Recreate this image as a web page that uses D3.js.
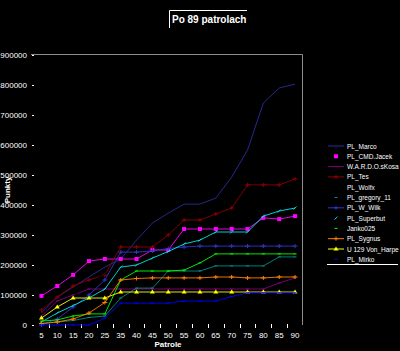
<!DOCTYPE html>
<html lang="en">
<head>
<meta charset="UTF-8">
<title>Po 89 patrolach</title>
<script src="https://d3js.org/d3.v7.min.js"></script>
<style>
  body { margin: 0; background: #000; }
  text { font-family: "Liberation Sans", Arial, sans-serif; fill: #fff; }
</style>
</head>
<body>
<script>
    const width = 400;
    const height = 351;

    // categories (patrols)
    const patrols = ["5","10","15","20","25","35","40","45","50","55","60","65","70","75","80","85","90"];
    const yTicks = [0,100000,200000,300000,400000,500000,600000,700000,800000,900000];

    // series values, in thousands of points
    const marco    = [40,93,127,160,193,220,283,340,373,403,403,423,493,583,740,790,803];
    const jacek    = [97,130,167,213,220,220,220,250,250,320,320,320,320,320,357,353,363];
    const wardo    = [30,80,100,120,120,120,120,120,120,120,120,120,120,120,120,140,157];
    const tes      = [50,93,130,150,167,260,260,260,300,350,350,370,390,467,467,467,487];
    const wolfx    = [20,55,95,140,170,195,205,225,240,250,262,270,282,290,300,312,320];
    const gregory  = [5,10,15,25,30,90,123,123,180,180,180,197,197,197,197,227,227];
    const wilk     = [0,20,60,100,150,243,243,247,255,260,263,263,263,263,263,263,263];
    const superbut = [10,40,65,90,120,193,200,223,245,270,283,310,310,310,363,380,390];
    const janko    = [13,17,30,37,37,150,180,180,180,183,207,237,237,237,237,237,237];
    const sygnus   = [5,10,20,40,75,150,155,157,157,157,157,160,160,157,157,160,160];
    const harpe    = [23,60,90,90,90,110,110,110,110,110,110,110,110,110,110,110,110];
    const mirko    = [0,0,0,0,23,73,73,73,73,80,80,80,95,107,107,107,107];

    const series = [
        {name: "PL_Marco",        values: marco,    color: "#2b2ba0", legendLine: true,  mark: null},
        {name: "PL_CMD.Jacek",    values: jacek,    color: "#ff00ff", legendLine: false, mark: "square"},
        {name: "W.A.R.D.O.sKosa", values: wardo,    color: "#800080", legendLine: true,  mark: "dash"},
        {name: "PL_Tes",          values: tes,      color: "#8b0000", legendLine: true,  mark: "plus"},
        {name: "PL_Wolfx",        values: wolfx,    color: "#000000", legendLine: false, mark: null},
        {name: "PL_gregory_11",   values: gregory,  color: "#008b8b", legendLine: false, mark: "dash"},
        {name: "PL_W_Wilk",       values: wilk,     color: "#3333cc", legendLine: true,  mark: "plus"},
        {name: "PL_Superbut",     values: superbut, color: "#00e5e5", legendLine: false, mark: "star"},
        {name: "Janko025",        values: janko,    color: "#00ff00", legendLine: false, mark: "dash"},
        {name: "PL_Sygnus",       values: sygnus,   color: "#ff8000", legendLine: true,  mark: "plus"},
        {name: "U 129 Von_Harpe", values: harpe,    color: "#ffff00", legendLine: true,  mark: "triangle"},
        {name: "PL_Mirko",        values: mirko,    color: "#0000ff", legendLine: false, mark: "dash"}
    ];

    const svg = d3.select("body").append("svg")
            .attr("width", width).attr("height", height)
            .style("background", "#000");

    const x = d3.scaleBand().domain(patrols).range([33.5, 303]);
    const y = d3.scaleLinear().domain([0, 900000]).range([325, 55]);

    // title box
    svg.append("path")
            .attr("d", "M169.5,28 V10.5 H247")
            .style("stroke", "#fff").style("fill", "none");
    svg.append("text")
            .attr("x", 172).attr("y", 23)
            .style("font-size", "10px").style("font-weight", "bold")
            .text("Po 89 patrolach");

    // frame (top and right)
    svg.append("path")
            .attr("d", `M31,${y(900000) - 0.5} H302.5 V325`)
            .style("stroke", "#8c8c8c").style("fill", "none");

    // y axis
    const yAxis = svg.append("g")
            .attr("transform", "translate(34,0)")
            .call(d3.axisLeft(y).tickValues(yTicks).tickSize(2).tickPadding(5).tickFormat(d3.format("d")));
    yAxis.select(".domain").remove();
    yAxis.selectAll("line").style("stroke", "#fff");
    yAxis.selectAll("text").style("font-size", "8px").style("fill", "#fff");

    // x axis
    const xAxis = svg.append("g")
            .attr("transform", "translate(0,325)")
            .call(d3.axisBottom(x).tickSize(0).tickPadding(7));
    xAxis.select(".domain").remove();
    xAxis.selectAll("text").style("font-size", "8px").style("fill", "#fff");
    svg.append("g").selectAll("line")
            .data(patrols.slice(1))
            .join("line")
            .attr("x1", d => Math.round(x(d)) + 0.5).attr("x2", d => Math.round(x(d)) + 0.5)
            .attr("y1", 324).attr("y2", 328)
            .style("stroke", "#fff");

    svg.append("text")
            .attr("x", 168).attr("y", 347).attr("text-anchor", "middle")
            .style("font-size", "8px").style("font-weight", "bold")
            .text("Patrole");
    svg.append("text")
            .attr("transform", "translate(10,190) rotate(-90)").attr("text-anchor", "middle")
            .style("font-size", "8px").style("font-weight", "bold")
            .text("Punkty");

    const cx = d => x(d) + x.bandwidth() / 2;
    const line = d3.line()
            .x(d => cx(d.p))
            .y(d => y(d.v * 1000));

    function drawMark(g, type, color, px, py) {
        if (type === "square") {
            g.append("rect").attr("x", px - 2).attr("y", py - 2).attr("width", 4).attr("height", 4)
                    .style("fill", color);
        } else if (type === "plus") {
            g.append("path").attr("d", `M${px - 2.5},${py} H${px + 2.5} M${px},${py - 2} V${py + 2}`)
                    .style("stroke", color).style("stroke-width", 1);
        } else if (type === "triangle") {
            g.append("path").attr("d", `M${px},${py - 2.5} L${px + 2.5},${py + 1.5} L${px - 2.5},${py + 1.5} Z`)
                    .style("fill", color);
        } else if (type === "dash") {
            g.append("path").attr("d", `M${px - 1.5},${py} H${px + 1.5}`)
                    .style("stroke", color).style("stroke-width", 1);
        } else if (type === "star") {
            g.append("path").attr("d", `M${px - 1.5},${py + 1.5} L${px + 1.5},${py - 1.5}`)
                    .style("stroke", color).style("stroke-width", 1);
        }
    }

    series.forEach(s => {
        const pts = s.values.map((v, i) => ({p: patrols[i], v: v}));
        const g = svg.append("g").attr("class", "series");
        g.append("path")
                .datum(pts)
                .attr("d", line)
                .style("fill", "none")
                .style("stroke", s.color)
                .style("stroke-width", 0.9);
        if (s.mark) pts.forEach(d => drawMark(g, s.mark, s.color, cx(d.p), y(d.v * 1000)));
    });

    // legend
    const legend = svg.append("g").attr("class", "legend");
    series.forEach((s, i) => {
        const ly = 146 + i * 10.3;
        const g = legend.append("g");
        if (s.legendLine) {
            g.append("line").attr("x1", 328).attr("x2", 344).attr("y1", ly).attr("y2", ly)
                    .style("stroke", s.color);
        }
        if (s.mark) drawMark(g, s.mark, s.color, 336, ly);
        g.append("text").attr("x", 347).attr("y", ly + 2.5)
                .style("font-size", "6.5px")
                .text(s.name);
    });
    legend.append("line")
            .attr("x1", 327).attr("x2", 398).attr("y1", 264.5).attr("y2", 264.5)
            .style("stroke", "#fff");
</script>
</body>
</html>
